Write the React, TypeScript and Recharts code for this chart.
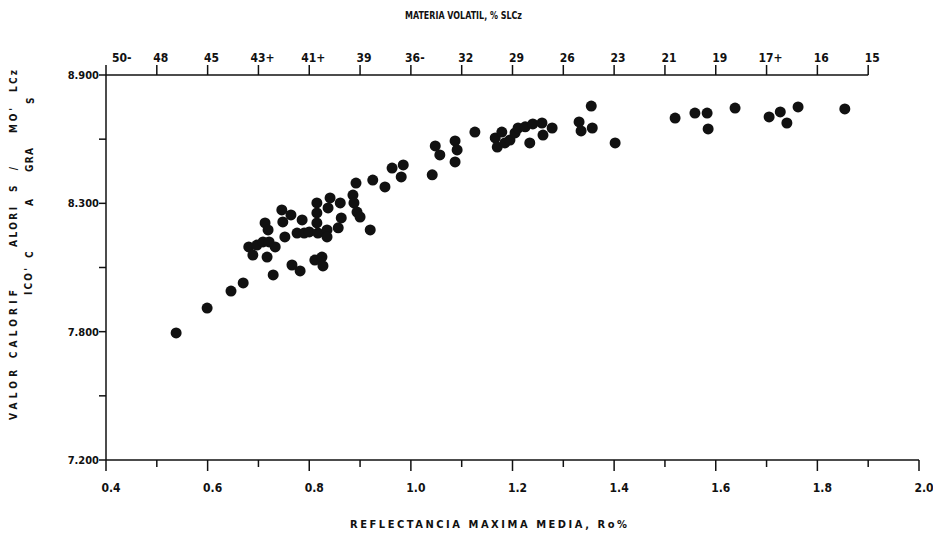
import React from 'react';
import { ScatterChart, Scatter, XAxis, YAxis, ReferenceLine, Customized } from 'recharts';

// Reflectancia maxima media, Ro%
const REFLECTANCE = [
  0.538, 0.599, 0.646, 0.67, 0.681, 0.689, 0.697, 0.709, 0.713, 0.719,
  0.721, 0.717, 0.729, 0.733, 0.746, 0.748, 0.752, 0.764, 0.766, 0.776,
  0.782, 0.786, 0.79, 0.8, 0.811, 0.815, 0.815, 0.815, 0.817, 0.825,
  0.827, 0.835, 0.835, 0.837, 0.841, 0.857, 0.861, 0.863, 0.886, 0.888,
  0.892, 0.894, 0.9, 0.92, 0.925, 0.949, 0.963, 0.981, 0.985, 1.042,
  1.048, 1.057, 1.087, 1.091, 1.087, 1.126, 1.166, 1.17, 1.179, 1.185,
  1.195, 1.205, 1.211, 1.225, 1.24, 1.258, 1.278, 1.234, 1.26, 1.331,
  1.335, 1.355, 1.357, 1.402, 1.52, 1.559, 1.583, 1.585, 1.638, 1.705,
  1.727, 1.74, 1.762, 1.854,
];

// Valor calorifico (axis units as drawn)
const CALORIFIC = [
  7.761, 7.871, 7.946, 7.982, 8.141, 8.105, 8.149, 8.163, 8.247, 8.216,
  8.163, 8.096, 8.017, 8.141, 8.304, 8.251, 8.185, 8.282, 8.061, 8.202,
  8.035, 8.26, 8.202, 8.207, 8.083, 8.335, 8.291, 8.247, 8.202, 8.096,
  8.057, 8.216, 8.185, 8.313, 8.357, 8.225, 8.335, 8.269, 8.37, 8.335,
  8.423, 8.295, 8.273, 8.216, 8.436, 8.406, 8.489, 8.45, 8.503, 8.459,
  8.587, 8.547, 8.609, 8.569, 8.516, 8.648, 8.622, 8.582, 8.648, 8.6,
  8.613, 8.644, 8.666, 8.671, 8.684, 8.688, 8.666, 8.6, 8.635, 8.693,
  8.653, 8.763, 8.666, 8.6, 8.71, 8.732, 8.732, 8.662, 8.754, 8.715,
  8.737, 8.688, 8.759, 8.75,
];

const X_TICKS = [0.4, 0.5, 0.6, 0.7, 0.8, 0.9, 1.0, 1.1, 1.2, 1.3, 1.4, 1.5, 1.6, 1.7, 1.8, 1.9, 2.0];
const X_TICK_LABELS = ['0.4', '', '0.6', '', '0.8', '', '1.0', '', '1.2', '', '1.4', '', '1.6', '', '1.8', '', '2.0'];

const VOLATILE_TICKS = [0.4, 0.5, 0.6, 0.7, 0.8, 0.9, 1.0, 1.1, 1.2, 1.3, 1.4, 1.5, 1.6, 1.7, 1.8, 1.9];
const VOLATILE_LABELS = ['50-', '48', '45', '43+', '41+', '39', '36-', '32', '29', '26', '23', '21', '19', '17+', '16', '15'];

const Y_TICK_LABELS = ['7.200', '', '7.800', '', '8.300', '', '8.900'];
const Y_MIN = 7.2;
const Y_MAX = 8.9;
const Y_TICKS = Y_TICK_LABELS.map((_, i) => Y_MIN + (i * (Y_MAX - Y_MIN)) / (Y_TICK_LABELS.length - 1));

const data = REFLECTANCE.map((x, i) => ({ x, y: CALORIFIC[i] }));

const INK = '#111';
const FONT = "'DejaVu Sans Condensed', 'Liberation Sans Narrow', sans-serif";

const findIndex = (ticks: number[], v: number) => ticks.findIndex((t) => Math.abs(t - v) < 1e-6);

const BottomTick = (props: any) => {
  const { x, y, payload } = props;
  const label = X_TICK_LABELS[findIndex(X_TICKS, payload.value)] || '';
  const major = label !== '';
  return (
    <g>
      <line x1={x} y1={y} x2={x} y2={y + (major ? 11 : 7)} stroke={INK} strokeWidth={1.5} />
      {major && (
        <text x={x + 5} y={y + 32} textAnchor="middle" fontFamily={FONT} fontWeight="bold" fontSize={12} fill={INK}>
          {label}
        </text>
      )}
    </g>
  );
};

const TopTick = (props: any) => {
  const { x, y, payload } = props;
  const i = findIndex(VOLATILE_TICKS, payload.value);
  const label = VOLATILE_LABELS[i] || '';
  return (
    <g>
      <line x1={x} y1={y} x2={x} y2={y - 10} stroke={INK} strokeWidth={1.5} />
      <text
        x={i === 0 ? x + 6 : x + 4}
        y={y - 13}
        textAnchor={i === 0 ? 'start' : 'middle'}
        fontFamily={FONT}
        fontWeight="bold"
        fontSize={12}
        fill={INK}
      >
        {label}
      </text>
    </g>
  );
};

const LeftTick = (props: any) => {
  const { x, y, payload } = props;
  const label = Y_TICK_LABELS[findIndex(Y_TICKS, payload.value)] || '';
  return (
    <g>
      <line x1={x} y1={y} x2={x - 7} y2={y} stroke={INK} strokeWidth={1.5} />
      {label && (
        <text x={x - 7} y={y + 4} textAnchor="end" fontFamily={FONT} fontWeight="bold" fontSize={11} fill={INK}>
          {label}
        </text>
      )}
    </g>
  );
};

// pieces of the scanned vertical title: [text, column centre x, bottom y, length]
const Y_TITLE_PARTS: [string, number, number, number][] = [
  ['VALOR  CALORIF', 13, 420, 130],
  ["ICO'", 28, 295, 27],
  ['C', 29, 258, 0],
  ['ALORI', 13, 247, 40],
  ['S /', 13, 192, 25],
  ['A', 29, 206, 0],
  ['GRA', 29, 172, 24],
  ["MO'", 13, 133, 25],
  ['S', 30, 104, 0],
  ['LCz', 13, 92, 22],
];

const Titles = () => (
  <g fontFamily={FONT} fontWeight="bold" fill={INK}>
    <text x={405} y={19} fontSize={11} textLength={117} lengthAdjust="spacingAndGlyphs">
      MATERIA VOLATIL, % SLCz
    </text>
    <text x={350} y={528} fontSize={11} textLength={277} lengthAdjust="spacing">
      REFLECTANCIA MAXIMA MEDIA, Ro%
    </text>
    {Y_TITLE_PARTS.map(([t, cx, by, len]) => (
      <text
        key={t + by}
        x={cx + 4}
        y={by}
        fontSize={10}
        transform={`rotate(-90 ${cx + 4} ${by})`}
        {...(len ? { textLength: len, lengthAdjust: 'spacing' } : {})}
      >
        {t}
      </text>
    ))}
  </g>
);

export default function App() {
  return (
    <div style={{ position: 'absolute', left: 0, top: 0, width: 933, height: 538, background: '#fff' }}>
      <ScatterChart width={933} height={538} margin={{ top: 0, right: 14, bottom: 0, left: 0 }}>
        <XAxis
          xAxisId="bottom"
          dataKey="x"
          type="number"
          domain={[0.4, 2.0]}
          ticks={X_TICKS}
          interval={0}
          height={78}
          tickSize={0}
          tickMargin={0}
          tick={<BottomTick />}
          axisLine={{ stroke: INK, strokeWidth: 1.5 }}
          tickLine={false}
        />
        <XAxis
          xAxisId="top"
          dataKey="x"
          orientation="top"
          type="number"
          domain={[0.4, 2.0]}
          ticks={VOLATILE_TICKS}
          interval={0}
          height={75}
          tickSize={0}
          tickMargin={0}
          tick={<TopTick />}
          axisLine={false}
          tickLine={false}
        />
        <YAxis
          dataKey="y"
          type="number"
          domain={[Y_MIN, Y_MAX]}
          ticks={Y_TICKS}
          interval={0}
          width={106}
          tickSize={0}
          tickMargin={0}
          tick={<LeftTick />}
          axisLine={{ stroke: INK, strokeWidth: 1.5 }}
          tickLine={false}
        />
        <ReferenceLine
          xAxisId="bottom"
          segment={[
            { x: 0.4, y: Y_MAX },
            { x: 1.9, y: Y_MAX },
          ]}
          stroke={INK}
          strokeWidth={1.5}
        />
        {/* invisible series so the volatile-matter axis gets drawn */}
        <Scatter xAxisId="top" data={data} isAnimationActive={false} shape={() => <g />} />
        <Scatter
          xAxisId="bottom"
          data={data}
          isAnimationActive={false}
          shape={(p: any) => <circle cx={p.cx} cy={p.cy} r={5.5} fill={INK} />}
        />
        <Customized component={Titles} />
      </ScatterChart>
    </div>
  );
}
